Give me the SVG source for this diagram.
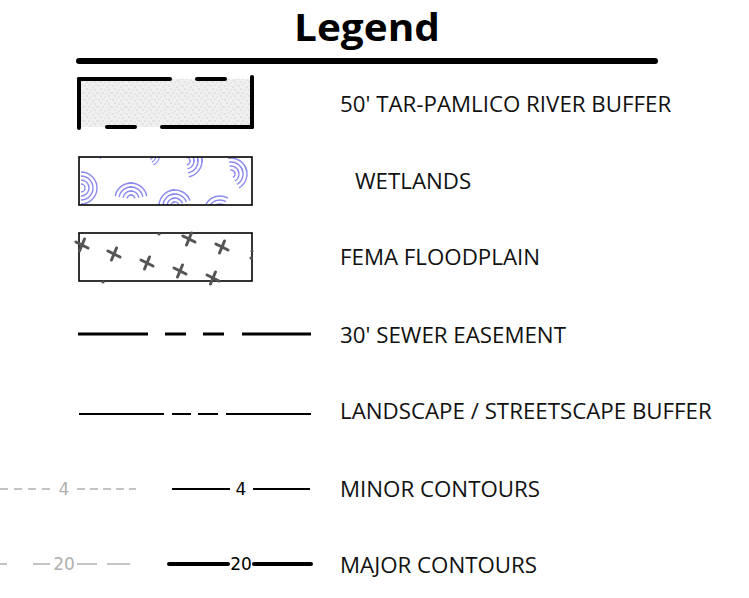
<svg xmlns="http://www.w3.org/2000/svg" width="749" height="598" viewBox="0 0 749 598">
<style>
.lbl{font-family:"Open Sans","Noto Sans","Liberation Sans",sans-serif;font-size:22.3px;fill:#111}
.num{font-family:"DejaVu Sans","Liberation Sans",sans-serif;font-size:17px;text-anchor:middle}
.blk{stroke:#000;fill:none}
.gry{stroke:#b0b0b0;fill:none;stroke-width:1.5}
.arc{stroke:#8a8af0;fill:none;stroke-width:1.4}
.x{stroke:#555;stroke-width:3;stroke-linecap:round}
</style>
<defs>
<pattern id="stip" width="14" height="14" patternUnits="userSpaceOnUse">
<rect width="14" height="14" fill="#f0f0f0"/>
<g fill="#c8c8c8">
<circle cx="1" cy="2" r="0.7"/><circle cx="5" cy="1" r="0.6"/><circle cx="9" cy="3" r="0.7"/><circle cx="12" cy="1" r="0.6"/>
<circle cx="3" cy="5" r="0.7"/><circle cx="7" cy="6" r="0.6"/><circle cx="11" cy="6" r="0.7"/>
<circle cx="1" cy="9" r="0.6"/><circle cx="5" cy="9" r="0.7"/><circle cx="9" cy="10" r="0.6"/><circle cx="13" cy="9" r="0.7"/>
<circle cx="3" cy="12" r="0.7"/><circle cx="7" cy="13" r="0.6"/><circle cx="11" cy="12" r="0.7"/>
</g>
</pattern>
<clipPath id="wclip"><rect x="79" y="157" width="173" height="48"/></clipPath>
<g id="wa">
<path d="M0,-4 A4,4 0 0 1 4,0"/>
<path d="M0,-8 A8,8 0 0 1 8,0"/>
<path d="M0,-12 A12,12 0 0 1 12,0"/>
<path d="M0,-16 A16,16 0 0 1 16,0"/>
</g>
<g id="xm"><line x1="-6" y1="-3" x2="6" y2="3"/><line x1="-2.5" y1="6" x2="2.5" y2="-6"/></g>
</defs>

<g id="title">
<text x="367" y="41" text-anchor="middle" font-family="Open Sans,Noto Sans,Liberation Sans,sans-serif" font-weight="bold" font-size="38" fill="#000" textLength="146" lengthAdjust="spacingAndGlyphs">Legend</text>
<line x1="79" y1="61" x2="655" y2="61" stroke="#000" stroke-width="6" stroke-linecap="round"/>
</g>

<g id="river-buffer">
<rect x="79" y="79" width="173" height="48" fill="url(#stip)"/>
<g class="blk" stroke-width="4" stroke-linecap="round">
<line x1="79" y1="79" x2="79" y2="128"/>
<line x1="79" y1="79" x2="170" y2="79"/>
<line x1="197" y1="79" x2="225" y2="79"/>
<line x1="252" y1="77" x2="252" y2="127"/>
<line x1="107" y1="127" x2="135" y2="127"/>
<line x1="162" y1="127" x2="252" y2="127"/>
</g>
<text class="lbl" x="340" y="112">50' TAR-PAMLICO RIVER BUFFER</text>
</g>

<g id="wetlands">
<g clip-path="url(#wclip)" class="arc">
<use href="#wa" transform="translate(81,188)"/>
<use href="#wa" transform="translate(81,188) rotate(90)"/>
<use href="#wa" transform="translate(131,199) rotate(-10)"/>
<use href="#wa" transform="translate(131,199) rotate(-80)"/>
<use href="#wa" transform="translate(186,161) rotate(5)"/>
<use href="#wa" transform="translate(186,161) rotate(80)"/>
<use href="#wa" transform="translate(231,174) rotate(-10)"/>
<use href="#wa" transform="translate(231,174) rotate(60)"/>
<use href="#wa" transform="translate(175,206) rotate(-90)"/>
<use href="#wa" transform="translate(175,206) rotate(-20)"/>
<use href="#wa" transform="translate(220,212) rotate(-60)"/>
<use href="#wa" transform="translate(147,154) rotate(60) scale(0.8)"/>
<path d="M100,157 l1,1.5"/>
</g>
<rect x="79" y="157" width="173" height="48" fill="none" stroke="#000" stroke-width="1.6"/>
<text class="lbl" x="355" y="189">WETLANDS</text>
</g>

<g id="floodplain">
<rect x="79" y="233" width="173" height="48" fill="none" stroke="#000" stroke-width="1.6"/>
<g class="x">
<use href="#xm" transform="translate(82,245)"/>
<use href="#xm" transform="translate(114,254)"/>
<use href="#xm" transform="translate(147,263)"/>
<use href="#xm" transform="translate(180,271)"/>
<use href="#xm" transform="translate(189,239)"/>
<use href="#xm" transform="translate(222,247)"/>
<use href="#xm" transform="translate(213,278)"/>
</g>
<g fill="#555">
<circle cx="159" cy="234" r="1.6"/><circle cx="103" cy="282" r="1.6"/><circle cx="252" cy="251" r="1.6"/><circle cx="251" cy="258" r="1.6"/>
</g>
<text class="lbl" x="340" y="265">FEMA FLOODPLAIN</text>
</g>

<g id="connectors">
<g id="sewer" class="blk" stroke-width="3">
<line x1="78" y1="334" x2="148" y2="334"/>
<line x1="165" y1="334" x2="186" y2="334"/>
<line x1="203" y1="334" x2="224" y2="334"/>
<line x1="242" y1="334" x2="311" y2="334"/>
</g>
<g id="landscape" class="blk" stroke-width="2">
<line x1="79" y1="414" x2="164" y2="414"/>
<line x1="172" y1="414" x2="191" y2="414"/>
<line x1="198" y1="414" x2="218" y2="414"/>
<line x1="226" y1="414" x2="311" y2="414"/>
</g>
<g id="minor-lines">
<line class="gry" x1="-2" y1="489" x2="52" y2="489" stroke-dasharray="8 6" stroke-dashoffset="-2"/>
<line class="gry" x1="77" y1="489" x2="136" y2="489" stroke-dasharray="8 5"/>
<line class="blk" stroke-width="2" x1="172" y1="489" x2="230" y2="489"/>
<line class="blk" stroke-width="2" x1="253" y1="489" x2="310" y2="489"/>
</g>
<g id="major-lines">
<line class="gry" x1="0" y1="564" x2="7" y2="564"/>
<line class="gry" x1="33" y1="564" x2="50" y2="564"/>
<line class="gry" x1="77" y1="564" x2="97" y2="564"/>
<line class="gry" x1="107" y1="564" x2="130" y2="564"/>
<line class="blk" stroke-width="4" stroke-linecap="round" x1="169" y1="564" x2="228" y2="564"/>
<line class="blk" stroke-width="4" stroke-linecap="round" x1="254" y1="564" x2="311" y2="564"/>
</g>
</g>

<g id="sewer-label"><text class="lbl" x="340" y="343">30' SEWER EASEMENT</text></g>
<g id="landscape-label"><text class="lbl" x="340" y="419">LANDSCAPE / STREETSCAPE BUFFER</text></g>
<g id="minor">
<text class="num" x="64" y="495" fill="#b0b0b0">4</text>
<text class="num" x="241" y="495" fill="#000">4</text>
<text class="lbl" x="340" y="497">MINOR CONTOURS</text>
</g>
<g id="major">
<text class="num" x="64" y="570" fill="#b0b0b0">20</text>
<text class="num" x="241" y="570" fill="#000">20</text>
<text class="lbl" x="340" y="573">MAJOR CONTOURS</text>
</g>
</svg>
